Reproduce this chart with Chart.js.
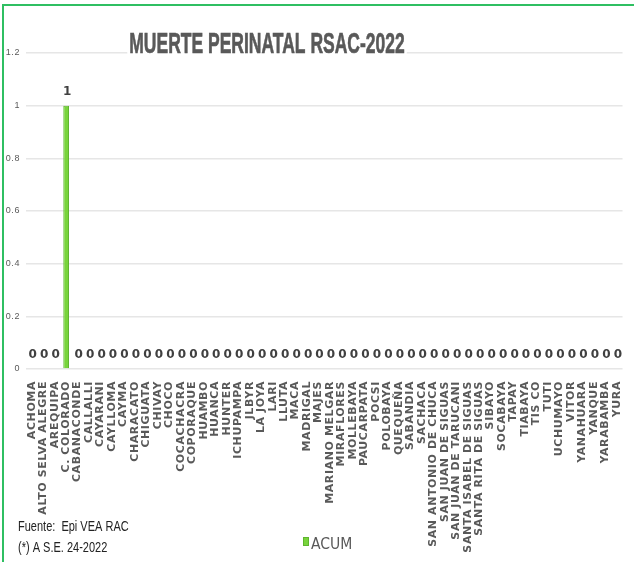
<!DOCTYPE html>
<html>
<head>
<meta charset="utf-8">
<script src="https://cdn.jsdelivr.net/npm/chart.js@4/dist/chart.umd.min.js"></script>
<style>
    html, body { margin: 0; padding: 0; background: #fff; overflow: hidden; }
    #wrap { position: relative; width: 634px; height: 562px; }
    #frame { position: absolute; left: 2px; top: 4px; width: 700px; height: 700px; border: 2px solid #2fbf62; pointer-events: none; }
</style>
</head>
<body>
<div id="wrap">
    <canvas id="perinatalChart" width="634" height="562"></canvas>
    <div id="frame"></div>
</div>
<script>
const categories = [
    'ACHOMA', 'ALTO SELVA ALEGRE', 'AREQUIPA', 'C. COLORADO', 'CABANACONDE', 'CALLALLI',
    'CAYARANI', 'CAYLLOMA', 'CAYMA', 'CHARACATO', 'CHIGUATA', 'CHIVAY', 'CHOCO',
    'COCACHACRA', 'COPORAQUE', 'HUAMBO', 'HUANCA', 'HUNTER', 'ICHUPAMPA', 'JLBYR',
    'LA JOYA', 'LARI', 'LLUTA', 'MACA', 'MADRIGAL', 'MAJES', 'MARIANO MELGAR',
    'MIRAFLORES', 'MOLLEBAYA', 'PAUCARPATA', 'POCSI', 'POLOBAYA', 'QUEQUEÑA',
    'SABANDIA', 'SACHACA', 'SAN ANTONIO DE CHUCA', 'SAN JUAN DE SIGUAS',
    'SAN JUAN DE TARUCANI', 'SANTA ISABEL DE SIGUAS', 'SANTA RITA DE SIGUAS', 'SIBAYO',
    'SOCABAYA', 'TAPAY', 'TIABAYA', 'TIS CO', 'TUTI', 'UCHUMAYO', 'VITOR', 'YANAHUARA',
    'YANQUE', 'YARABAMBA', 'YURA'
];
const acum = [
    0, 0, 0, 1, 0, 0,
    0, 0, 0, 0, 0, 0, 0,
    0, 0, 0, 0, 0, 0, 0,
    0, 0, 0, 0, 0, 0, 0,
    0, 0, 0, 0, 0, 0,
    0, 0, 0, 0,
    0, 0, 0, 0,
    0, 0, 0, 0, 0, 0, 0, 0,
    0, 0, 0
];
const yTickValues = [0, 0.2, 0.4, 0.6, 0.8, 1, 1.2];
const chartTitle = 'MUERTE PERINATAL RSAC-2022';
const footerLines = ['Fuente:  Epi VEA RAC', '(*) A S.E. 24-2022'];

const grey = '#595959';

// the category labels in the original are spaced out a little
const spacedLabels = {
    id: 'spacedLabels',
    beforeDraw(chart) { chart.ctx.letterSpacing = '0.6px'; },
    beforeDatasetsDraw(chart) { chart.ctx.letterSpacing = '0px'; }
};

// value labels above each bar
const valueLabels = {
    id: 'valueLabels',
    afterDatasetsDraw(chart) {
        const ctx = chart.ctx;
        const meta = chart.getDatasetMeta(0);
        ctx.save();
        ctx.font = 'bold 12px "DejaVu Sans"';
        ctx.fillStyle = '#404040';
        ctx.textAlign = 'center';
        ctx.textBaseline = 'middle';
        meta.data.forEach((bar, i) => {
            ctx.fillText(String(acum[i]), bar.x + 1, bar.y - 14);
        });
        ctx.restore();
    }
};

// title, legend and source note
const extras = {
    id: 'extras',
    afterDraw(chart) {
        const ctx = chart.ctx;
        ctx.save();
        // title (condensed, stretched vertically like the original)
        ctx.font = 'bold 17.5px "Liberation Sans Narrow", "Liberation Sans"';
        const tw = ctx.measureText(chartTitle).width;
        ctx.fillStyle = '#fff';
        ctx.fillRect(267 - tw / 2 - 2, 30, tw + 4, 26);
        ctx.fillStyle = grey;
        ctx.strokeStyle = grey;
        ctx.lineWidth = 0.4;
        ctx.textAlign = 'center';
        ctx.textBaseline = 'alphabetic';
        ctx.translate(267, 53);
        ctx.scale(1, 1.7);
        ctx.fillText(chartTitle, 0, 0);
        ctx.strokeText(chartTitle, 0, 0);
        ctx.restore();

        // legend
        ctx.save();
        const ds = chart.data.datasets[0];
        ctx.fillStyle = ds.backgroundColor;
        ctx.fillRect(303, 537, 6, 9);
        ctx.strokeStyle = ds.borderColor;
        ctx.strokeRect(303.5, 537.5, 5, 8);
        ctx.fillStyle = grey;
        ctx.font = '14px "DejaVu Sans"';
        ctx.textAlign = 'left';
        ctx.translate(311, 549);
        ctx.scale(1, 1.15);
        ctx.fillText(ds.label, 0, 0);
        ctx.restore();

        // footer
        ctx.save();
        ctx.fillStyle = '#222';
        ctx.font = '11px "Liberation Sans Narrow", "Liberation Sans"';
        footerLines.forEach((line, i) => {
            ctx.save();
            ctx.translate(18, 531 + i * 21);
            ctx.scale(1, 1.3);
            ctx.fillText(line, 0, 0);
            ctx.restore();
        });
        ctx.restore();
    }
};

new Chart(document.getElementById('perinatalChart'), {
    type: 'bar',
    data: {
        labels: categories,
        datasets: [{
            label: 'ACUM',
            data: acum,
            backgroundColor: '#78d43c',
            borderColor: '#5fb52e',
            borderWidth: 1,
            categoryPercentage: 1,
            barPercentage: 0.5
        }]
    },
    options: {
        responsive: false,
        animation: false,
        layout: {
            padding: { top: 53, left: 4, right: 0, bottom: 3 }
        },
        plugins: {
            legend: { display: false },
            title: { display: false },
            tooltip: { enabled: false }
        },
        scales: {
            x: {
                grid: { display: false },
                border: { display: false },
                ticks: {
                    autoSkip: false,
                    minRotation: 90,
                    maxRotation: 90,
                    padding: 4,
                    color: grey,
                    font: { family: 'DejaVu Sans', size: 11, weight: 'bold' }
                },
                afterFit(scale) { scale.height = 190; }
            },
            y: {
                min: 0,
                max: 1.2,
                afterBuildTicks(scale) {
                    scale.ticks = yTickValues.map(v => ({ value: v }));
                },
                grid: { color: '#e6e6e6', lineWidth: 1.5, drawTicks: false },
                border: { display: false },
                ticks: {
                    padding: 6,
                    color: grey,
                    font: { family: 'Liberation Sans', size: 9 },
                    callback: function(value) { return String(value); }
                },
                afterFit(scale) { scale.width = 22; }
            }
        }
    },
    plugins: [spacedLabels, valueLabels, extras]
});
</script>
</body>
</html>
